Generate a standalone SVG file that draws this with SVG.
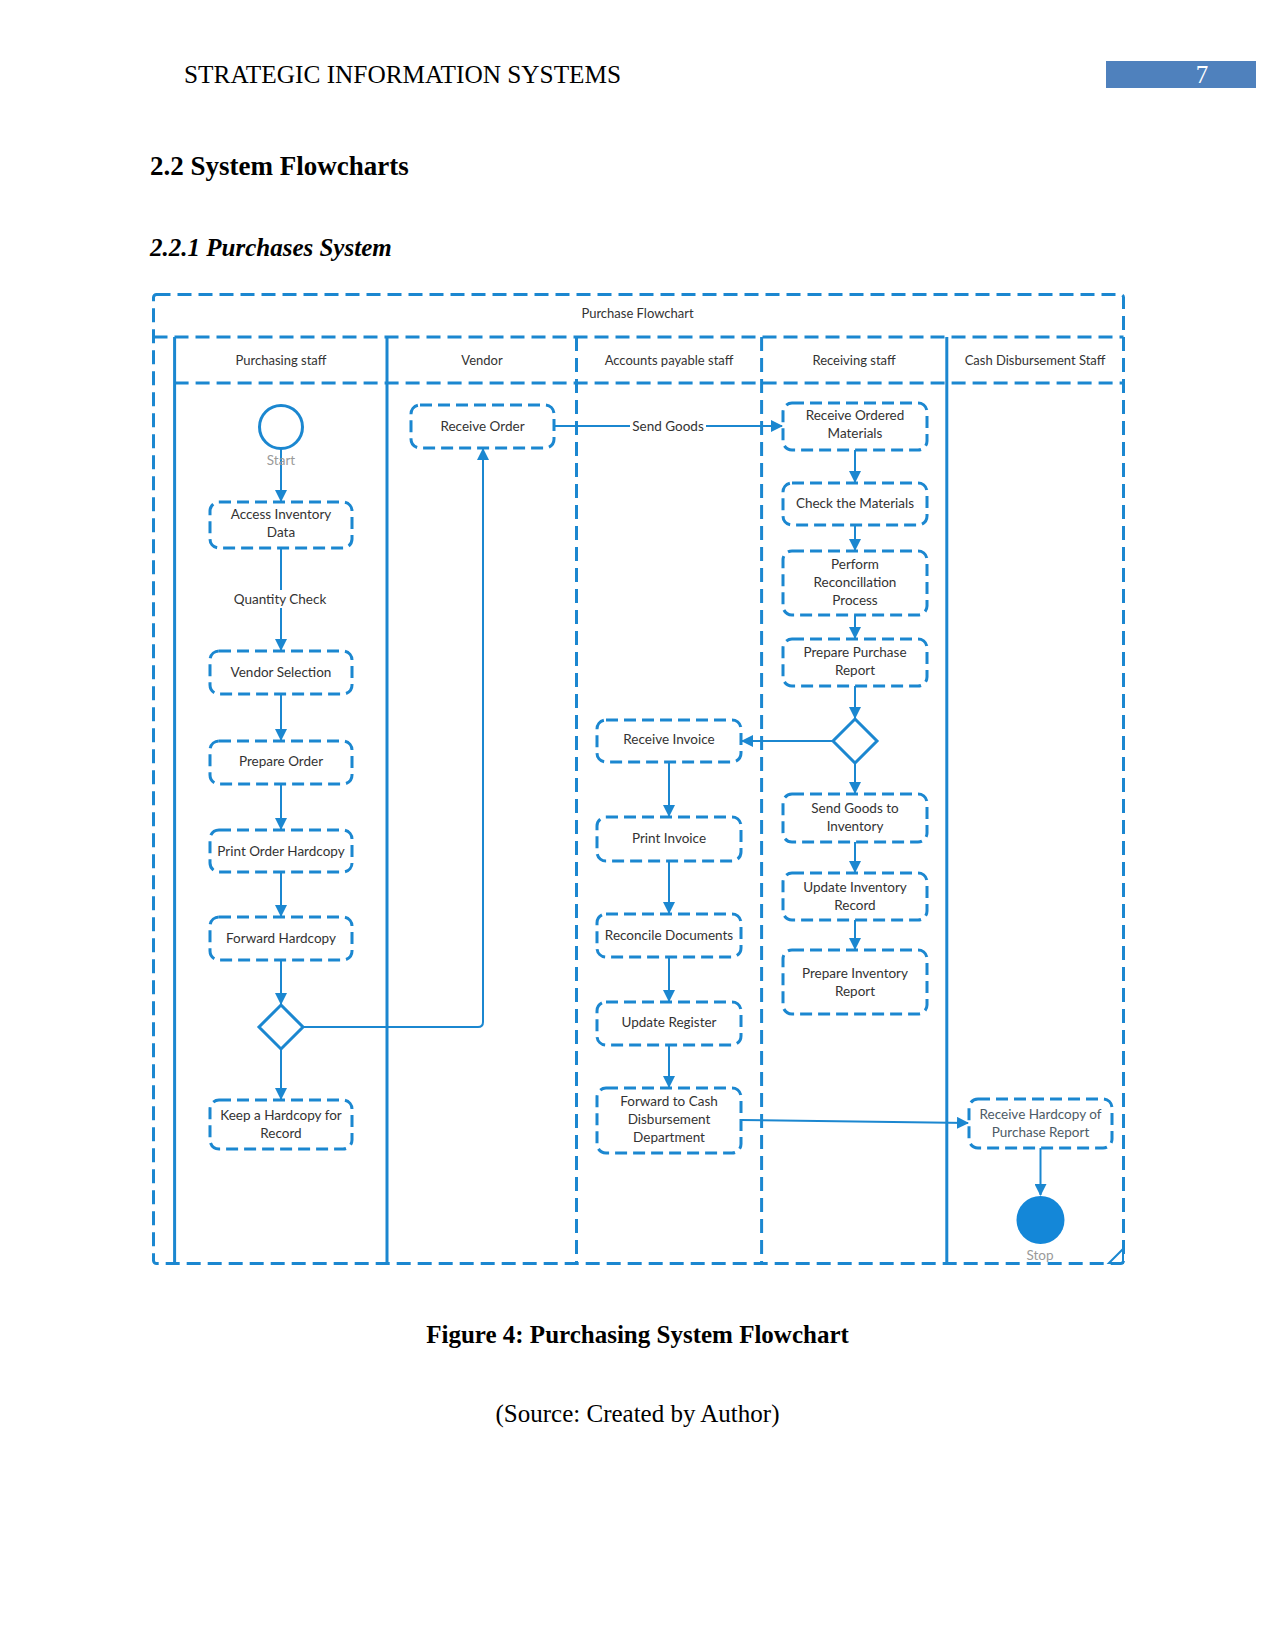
<svg xmlns="http://www.w3.org/2000/svg" width="1275" height="1650" viewBox="0 0 1275 1650">
<style>
.doc{font-family:"Liberation Serif","Times New Roman",serif;fill:#000}
.node rect{fill:#fff;stroke:#1b87d0;stroke-width:3;stroke-dasharray:12 6}
.lbl{font-family:Lato,"Liberation Sans",sans-serif;font-size:13.5px;fill:#333;text-anchor:middle}
.hdr{font-family:Lato,"Liberation Sans",sans-serif;font-size:13px;fill:#333;text-anchor:middle}
.gray{fill:#9a9a9a}
.lane{fill:none;stroke:#1b87d0;stroke-width:3}
.dash{stroke-dasharray:14 7}
.conn path,.conn line{fill:none;stroke:#1b87d0;stroke-width:2}
.arr{marker-end:url(#ah)}
</style>
<defs>
<marker id="ah" markerUnits="userSpaceOnUse" markerWidth="12" markerHeight="12" refX="11" refY="6" orient="auto">
<path d="M0,0 L12,6 L0,12 z" fill="#1b87d0"/>
</marker>
</defs>
<rect width="1275" height="1650" fill="#fff"/>
<!-- page header -->
<text class="doc" x="184" y="83" font-size="25.3">STRATEGIC INFORMATION SYSTEMS</text>
<rect x="1106" y="61" width="150" height="27" fill="#4f81bd"/>
<text class="doc" x="1202" y="83" font-size="25" style="fill:#fff" text-anchor="middle">7</text>
<text class="doc" x="150" y="175" font-size="27" font-weight="bold">2.2 System Flowcharts</text>
<text class="doc" x="150" y="256" font-size="25" font-weight="bold" font-style="italic">2.2.1 Purchases System</text>
<text class="doc" x="637.5" y="1343" font-size="25" font-weight="bold" text-anchor="middle">Figure 4: Purchasing System Flowchart</text>
<text class="doc" x="637.5" y="1422" font-size="25" text-anchor="middle">(Source: Created by Author)</text>

<!-- swimlane frame -->
<g id="pool">
<rect class="lane dash" x="153.5" y="294.5" width="970" height="969" rx="3"/>
<line class="lane dash" x1="153.5" y1="337" x2="1123.5" y2="337"/>
<line class="lane dash" x1="174.6" y1="383" x2="1123.5" y2="383"/>
<line class="lane" x1="174.6" y1="337" x2="174.6" y2="1263.5"/>
<line class="lane" x1="387" y1="337" x2="387" y2="1263.5"/>
<line class="lane dash" x1="576.5" y1="337" x2="576.5" y2="1263.5"/>
<line class="lane dash" x1="761.6" y1="337" x2="761.6" y2="1263.5"/>
<line class="lane" x1="946.8" y1="337" x2="946.8" y2="1263.5"/>
<path class="lane" d="M1109,1263 L1123,1249 L1123,1263 z" style="stroke-width:2"/>
<text class="hdr" x="637.5" y="318">Purchase Flowchart</text>
<text class="hdr" x="281" y="364.5">Purchasing staff</text>
<text class="hdr" x="482" y="364.5">Vendor</text>
<text class="hdr" x="669" y="364.5">Accounts payable staff</text>
<text class="hdr" x="854" y="364.5">Receiving staff</text>
<text class="hdr" x="1035" y="364.5">Cash Disbursement Staff</text>
</g>

<!-- connectors -->
<g id="connectors" class="conn">
<line class="arr" x1="281" y1="449" x2="281" y2="501"/>
<line class="arr" x1="281" y1="548" x2="281" y2="650"/>
<line class="arr" x1="281" y1="694" x2="281" y2="740"/>
<line class="arr" x1="281" y1="784" x2="281" y2="829"/>
<line class="arr" x1="281" y1="872" x2="281" y2="916"/>
<line class="arr" x1="281" y1="960" x2="281" y2="1004"/>
<line class="arr" x1="281" y1="1049" x2="281" y2="1099"/>
<path class="arr" d="M303,1027 L478,1027 Q483,1027 483,1022 L483,449"/>
<line class="arr" x1="554" y1="426" x2="782" y2="426"/>
<line class="arr" x1="855" y1="450" x2="855" y2="482"/>
<line class="arr" x1="855" y1="525" x2="855" y2="550"/>
<line class="arr" x1="855" y1="615" x2="855" y2="638"/>
<line class="arr" x1="855" y1="686" x2="855" y2="718"/>
<line class="arr" x1="855" y1="763" x2="855" y2="793"/>
<line class="arr" x1="855" y1="842" x2="855" y2="872"/>
<line class="arr" x1="855" y1="920" x2="855" y2="949"/>
<line class="arr" x1="833" y1="741" x2="742" y2="741"/>
<line class="arr" x1="669" y1="762" x2="669" y2="816"/>
<line class="arr" x1="669" y1="861" x2="669" y2="913"/>
<line class="arr" x1="669" y1="957" x2="669" y2="1001"/>
<line class="arr" x1="669" y1="1045" x2="669" y2="1087"/>
<path class="arr" d="M741,1120 L968,1123"/>
<line class="arr" x1="1040.5" y1="1148" x2="1040.5" y2="1195"/>
<rect x="230" y="590" width="102" height="18" fill="#fff"/>
<text class="lbl" x="280" y="603.5">Quantity Check</text>
<rect x="630" y="418" width="76" height="17" fill="#fff"/>
<text class="lbl" x="668" y="430.5">Send Goods</text>
</g>

<!-- nodes -->
<g id="start">
<circle cx="281" cy="427" r="21.5" fill="#fff" stroke="#1b87d0" stroke-width="3"/>
<text class="lbl gray" x="281" y="465">Start</text>
</g>
<g id="access-inventory" class="node"><rect x="210" y="502" width="142" height="46" rx="9"/>
<text class="lbl" x="281" y="519">Access Inventory</text><text class="lbl" x="281" y="537">Data</text></g>
<g id="vendor-selection" class="node"><rect x="210" y="651" width="142" height="43" rx="9"/>
<text class="lbl" x="281" y="677">Vendor Selection</text></g>
<g id="prepare-order" class="node"><rect x="210" y="741" width="142" height="43" rx="9"/>
<text class="lbl" x="281" y="766">Prepare Order</text></g>
<g id="print-order" class="node"><rect x="210" y="830" width="142" height="42" rx="9"/>
<text class="lbl" x="281" y="855.5">Print Order Hardcopy</text></g>
<g id="forward-hardcopy" class="node"><rect x="210" y="917" width="142" height="43" rx="9"/>
<text class="lbl" x="281" y="943">Forward Hardcopy</text></g>
<g id="decision-1"><path d="M281,1005 L303,1027 L281,1049 L259,1027 z" fill="#fff" stroke="#1b87d0" stroke-width="3"/></g>
<g id="keep-hardcopy" class="node"><rect x="210" y="1100" width="142" height="49" rx="9"/>
<text class="lbl" x="281" y="1119.5">Keep a Hardcopy for</text><text class="lbl" x="281" y="1137.5">Record</text></g>

<g id="receive-order" class="node"><rect x="411" y="405" width="143" height="43" rx="9"/>
<text class="lbl" x="482.5" y="431">Receive Order</text></g>

<g id="receive-ordered" class="node"><rect x="783" y="403" width="144" height="47" rx="9"/>
<text class="lbl" x="855" y="420">Receive Ordered</text><text class="lbl" x="855" y="438">Materials</text></g>
<g id="check-materials" class="node"><rect x="783" y="483" width="144" height="42" rx="9"/>
<text class="lbl" x="855" y="507.5">Check the Materials</text></g>
<g id="reconciliation" class="node"><rect x="783" y="551" width="144" height="64" rx="9"/>
<text class="lbl" x="855" y="568.5">Perform</text><text class="lbl" x="855" y="586.5">Reconcillation</text><text class="lbl" x="855" y="604.5">Process</text></g>
<g id="purchase-report" class="node"><rect x="783" y="639" width="144" height="47" rx="9"/>
<text class="lbl" x="855" y="656.5">Prepare Purchase</text><text class="lbl" x="855" y="674.5">Report</text></g>
<g id="decision-2"><path d="M855,719 L877,741 L855,763 L833,741 z" fill="#fff" stroke="#1b87d0" stroke-width="3"/></g>
<g id="send-goods-inventory" class="node"><rect x="783" y="794" width="144" height="48" rx="9"/>
<text class="lbl" x="855" y="812.5">Send Goods to</text><text class="lbl" x="855" y="830.5">Inventory</text></g>
<g id="update-inventory" class="node"><rect x="783" y="873" width="144" height="47" rx="9"/>
<text class="lbl" x="855" y="891.5">Update Inventory</text><text class="lbl" x="855" y="909.5">Record</text></g>
<g id="inventory-report" class="node"><rect x="783" y="950" width="144" height="64" rx="9"/>
<text class="lbl" x="855" y="977.5">Prepare Inventory</text><text class="lbl" x="855" y="995.5">Report</text></g>

<g id="receive-invoice" class="node"><rect x="597" y="720" width="144" height="42" rx="9"/>
<text class="lbl" x="669" y="744">Receive Invoice</text></g>
<g id="print-invoice" class="node"><rect x="597" y="817" width="144" height="44" rx="9"/>
<text class="lbl" x="669" y="842.5">Print Invoice</text></g>
<g id="reconcile-docs" class="node"><rect x="597" y="914" width="144" height="43" rx="9"/>
<text class="lbl" x="669" y="939.5">Reconcile Documents</text></g>
<g id="update-register" class="node"><rect x="597" y="1002" width="144" height="43" rx="9"/>
<text class="lbl" x="669" y="1027">Update Register</text></g>
<g id="forward-cash" class="node"><rect x="597" y="1088" width="144" height="65" rx="9"/>
<text class="lbl" x="669" y="1106">Forward to Cash</text><text class="lbl" x="669" y="1123.5">Disbursement</text><text class="lbl" x="669" y="1141.5">Department</text></g>

<g id="receive-hardcopy" class="node"><rect x="969" y="1099" width="143" height="49" rx="9"/>
<text class="lbl" x="1040.5" y="1118.5" style="fill:#4d5b66">Receive Hardcopy of</text><text class="lbl" x="1040.5" y="1136.5" style="fill:#4d5b66">Purchase Report</text></g>
<g id="stop">
<circle cx="1040.5" cy="1220" r="24" fill="#1487d8"/>
<text class="lbl gray" x="1040" y="1259.5">Stop</text>
</g>
</svg>
